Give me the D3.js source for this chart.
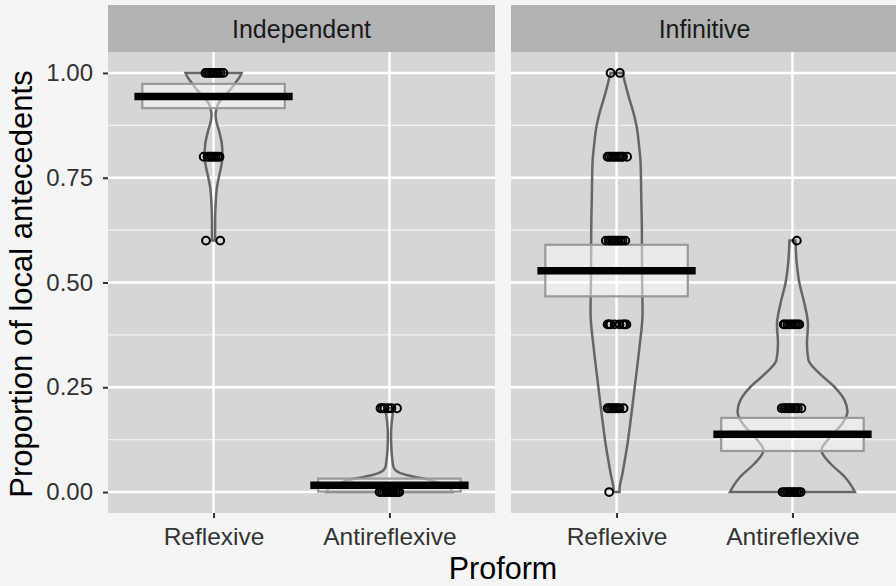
<!DOCTYPE html>
<html lang="en">
<head>
  <meta charset="UTF-8">
  <title>Proportion of local antecedents by proform</title>
  <script src="https://d3js.org/d3.v7.min.js"></script>
  <style>
    body {
      margin: 0;
      background: #f5f5f5;
      font-family: "Liberation Sans", Arial, sans-serif;
    }
    svg {
      display: block;
    }
  </style>
</head>
<body>
  <svg id="chart" width="896" height="586"></svg>
  <script>
    // facets and categories
    const facets = ["Independent", "Infinitive"];
    const proforms = ["Reflexive", "Antireflexive"];
    const yTicks = [0, 0.25, 0.5, 0.75, 1];
    const yMinorTicks = [0.125, 0.375, 0.625, 0.875];

    // crossbar per facet: [Reflexive, Antireflexive]
    const crossMean  = [[0.944, 0.016], [0.528, 0.138]];
    const crossLower = [[0.916, 0.001], [0.467, 0.098]];
    const crossUpper = [[0.974, 0.032], [0.590, 0.177]];

    // violin outlines: [proportion, relative density]
    const violinIndRefl = [
      [0.6, 0.024], [0.65, 0.025], [0.697, 0.037], [0.725, 0.052], [0.753, 0.087],
      [0.775, 0.119], [0.8, 0.143], [0.83, 0.132], [0.857, 0.095], [0.885, 0.044],
      [0.9, 0.032], [0.912, 0.044], [0.925, 0.071], [0.936, 0.119], [0.95, 0.206],
      [0.967, 0.302], [0.98, 0.365], [0.99, 0.413], [1.0, 0.444]
    ];
    const violinIndAnti = [
      [0.0, 1.0], [0.01, 0.952], [0.02, 0.825], [0.03, 0.603], [0.035, 0.444],
      [0.04, 0.286], [0.045, 0.175], [0.05, 0.111], [0.06, 0.063], [0.075, 0.048],
      [0.1, 0.032], [0.136, 0.025], [0.168, 0.037], [0.19, 0.056], [0.2, 0.063]
    ];
    const violinInfRefl = [
      [0.0, 0.048], [0.005, 0.048], [0.045, 0.095], [0.108, 0.167], [0.188, 0.238],
      [0.267, 0.302], [0.347, 0.365], [0.427, 0.413], [0.518, 0.405], [0.628, 0.402],
      [0.709, 0.392], [0.788, 0.381], [0.827, 0.357], [0.867, 0.325], [0.907, 0.265],
      [0.947, 0.186], [1.0, 0.095]
    ];
    const violinInfAnti = [
      [0.0, 0.992], [0.013, 0.944], [0.037, 0.825], [0.068, 0.603], [0.1, 0.46],
      [0.132, 0.603], [0.164, 0.794], [0.192, 0.873], [0.22, 0.825], [0.251, 0.667],
      [0.283, 0.429], [0.315, 0.254], [0.355, 0.23], [0.399, 0.246], [0.45, 0.19],
      [0.498, 0.111], [0.546, 0.068], [0.6, 0.048]
    ];

    // individual speakers: [proportion, horizontal jitter in category steps]
    const pointsIndRefl = [
      [1, -0.046], [1, -0.034], [1, -0.022], [1, -0.01], [1, 0.002], [1, 0.014], [1, 0.026], [1, 0.04], [1, 0.056],
      [0.8, -0.056], [0.8, -0.034], [0.8, -0.023], [0.8, -0.011], [0.8, 0], [0.8, 0.011], [0.8, 0.023], [0.8, 0.034],
      [0.6, -0.043], [0.6, 0.038]
    ];
    const pointsIndAnti = [
      [0.2, -0.051], [0.2, -0.04], [0.2, -0.028], [0.2, -0.006], [0.2, 0.011], [0.2, 0.043],
      [0, -0.056], [0, -0.043], [0, -0.03], [0, -0.017], [0, -0.004], [0, 0.009], [0, 0.022],
      [0, 0.035], [0, 0.046], [0, 0.056]
    ];
    const pointsInfRefl = [
      [1, -0.034], [1, 0.019],
      [0.8, -0.051], [0.8, -0.04], [0.8, -0.028], [0.8, -0.017], [0.8, -0.006], [0.8, 0.006],
      [0.8, 0.017], [0.8, 0.028], [0.8, 0.037], [0.8, 0.06],
      [0.6, -0.061], [0.6, -0.045], [0.6, -0.034], [0.6, -0.023], [0.6, -0.011], [0.6, 0],
      [0.6, 0.011], [0.6, 0.023], [0.6, 0.034], [0.6, 0.05],
      [0.4, -0.051], [0.4, -0.043], [0.4, -0.034], [0.4, -0.011], [0.4, 0.017], [0.4, 0.037],
      [0.4, 0.045], [0.4, 0.056],
      [0.2, -0.051], [0.2, -0.04], [0.2, -0.028], [0.2, -0.017], [0.2, -0.006], [0.2, 0.006],
      [0.2, 0.017], [0.2, 0.04],
      [0, -0.042]
    ];
    const pointsInfAnti = [
      [0.6, 0.025],
      [0.4, -0.05], [0.4, -0.043], [0.4, -0.028], [0.4, -0.017], [0.4, -0.006], [0.4, 0.006],
      [0.4, 0.017], [0.4, 0.028], [0.4, 0.039],
      [0.2, -0.061], [0.2, -0.048], [0.2, -0.037], [0.2, -0.026], [0.2, -0.014], [0.2, -0.003],
      [0.2, 0.009], [0.2, 0.02], [0.2, 0.031], [0.2, 0.051],
      [0, -0.056], [0, -0.043], [0, -0.031], [0, -0.02], [0, -0.009], [0, 0.003],
      [0, 0.014], [0, 0.026], [0, 0.037], [0, 0.047]
    ];

    const groups = [
      { facet: 0, proform: 0, violin: violinIndRefl, points: pointsIndRefl },
      { facet: 0, proform: 1, violin: violinIndAnti, points: pointsIndAnti },
      { facet: 1, proform: 0, violin: violinInfRefl, points: pointsInfRefl },
      { facet: 1, proform: 1, violin: violinInfAnti, points: pointsInfAnti }
    ];

    const svg = d3.select("#chart");
    const panelTop = 52, panelBottom = 513, stripTop = 5;
    const panelLeft = [108, 511];
    const panelWidth = 387;

    svg.append("rect").attr("width", 896).attr("height", 586).attr("fill", "#f5f5f5");

    const y = d3.scaleLinear().domain([-0.05, 1.05]).range([panelBottom, panelTop]);

    const xScales = panelLeft.map(x0 => d3.scalePoint()
      .domain(proforms)
      .range([x0, x0 + panelWidth])
      .padding(0.6));

    const step = xScales[0].step();
    // relative density -> half width in pixels
    const halfWidth = d3.scaleLinear().domain([0, 1]).range([0, 0.358 * step]);

    facets.forEach((name, fi) => {
      const x = xScales[fi];
      const x0 = panelLeft[fi];
      const g = svg.append("g");

      g.append("rect")
        .attr("x", x0).attr("y", panelTop)
        .attr("width", panelWidth).attr("height", panelBottom - panelTop)
        .attr("fill", "#d6d6d6");

      g.selectAll(".minor").data(yMinorTicks).join("line")
        .attr("x1", x0).attr("x2", x0 + panelWidth)
        .attr("y1", d => y(d)).attr("y2", d => y(d))
        .attr("stroke", "#f2f2f2").attr("stroke-width", 1.2);

      g.selectAll(".major").data(yTicks).join("line")
        .attr("x1", x0).attr("x2", x0 + panelWidth)
        .attr("y1", d => y(d)).attr("y2", d => y(d))
        .attr("stroke", "#ffffff").attr("stroke-width", 2.4);

      g.selectAll(".vmajor").data(proforms).join("line")
        .attr("x1", d => x(d)).attr("x2", d => x(d))
        .attr("y1", panelTop).attr("y2", panelBottom)
        .attr("stroke", "#ffffff").attr("stroke-width", 2.4);

      // strip
      g.append("rect")
        .attr("x", x0).attr("y", stripTop)
        .attr("width", panelWidth).attr("height", panelTop - stripTop)
        .attr("fill", "#b3b3b3");
      g.append("text")
        .attr("x", x0 + panelWidth / 2).attr("y", 37.5)
        .attr("text-anchor", "middle")
        .attr("font-size", 25).attr("fill", "#1a1a1a")
        .text(name);

      // x axis
      const xAxis = g.append("g")
        .attr("transform", `translate(0, ${panelBottom})`)
        .call(d3.axisBottom(x).tickSize(5).tickPadding(10));
      xAxis.select(".domain").remove();
      xAxis.selectAll("line").attr("stroke", "#333").attr("stroke-width", 2);
      xAxis.selectAll("text")
        .attr("font-size", 24.5).attr("fill", "#333")
        .attr("font-family", "Liberation Sans, Arial, sans-serif");
    });

    // y axis on the left panel only
    const yAxis = svg.append("g")
      .attr("transform", `translate(${panelLeft[0]}, 0)`)
      .call(d3.axisLeft(y).tickValues(yTicks).tickFormat(d3.format(".2f")).tickSize(5).tickPadding(10));
    yAxis.select(".domain").remove();
    yAxis.selectAll("line").attr("stroke", "#333").attr("stroke-width", 2);
    yAxis.selectAll("text")
      .attr("font-size", 24).attr("fill", "#333")
      .attr("font-family", "Liberation Sans, Arial, sans-serif");

    // violins, crossbars and points
    const violinArea = d3.area()
      .curve(d3.curveMonotoneY)
      .y(d => y(d[0]));

    groups.forEach(grp => {
      const cx = xScales[grp.facet](proforms[grp.proform]);
      const g = svg.append("g");

      g.append("path")
        .datum(grp.violin)
        .attr("d", violinArea.x0(d => cx - halfWidth(d[1])).x1(d => cx + halfWidth(d[1])))
        .attr("fill", "none")
        .attr("stroke", "#666666")
        .attr("stroke-width", 2.5);

      const lo = crossLower[grp.facet][grp.proform];
      const hi = crossUpper[grp.facet][grp.proform];
      const mean = crossMean[grp.facet][grp.proform];

      g.append("rect")
        .attr("x", cx - 0.405 * step)
        .attr("width", 0.81 * step)
        .attr("y", y(hi))
        .attr("height", y(lo) - y(hi))
        .attr("fill", "#ffffff").attr("fill-opacity", 0.5)
        .attr("stroke", "#999999").attr("stroke-width", 2.2);

      g.append("line")
        .attr("x1", cx - 0.45 * step).attr("x2", cx + 0.45 * step)
        .attr("y1", y(mean)).attr("y2", y(mean))
        .attr("stroke", "#000").attr("stroke-width", 7.5);

      g.selectAll("circle").data(grp.points).join("circle")
        .attr("cx", d => cx + d[1] * step)
        .attr("cy", d => y(d[0]))
        .attr("r", 3.9)
        .attr("fill", "none")
        .attr("stroke", "#000")
        .attr("stroke-width", 2);
    });

    // axis titles
    svg.append("text")
      .attr("x", 503).attr("y", 579)
      .attr("text-anchor", "middle")
      .attr("font-size", 30.5).attr("fill", "#000")
      .text("Proform");

    svg.append("text")
      .attr("transform", "translate(32, 284) rotate(-90)")
      .attr("text-anchor", "middle")
      .attr("font-size", 31).attr("fill", "#000")
      .text("Proportion of local antecedents");
  </script>
</body>
</html>
